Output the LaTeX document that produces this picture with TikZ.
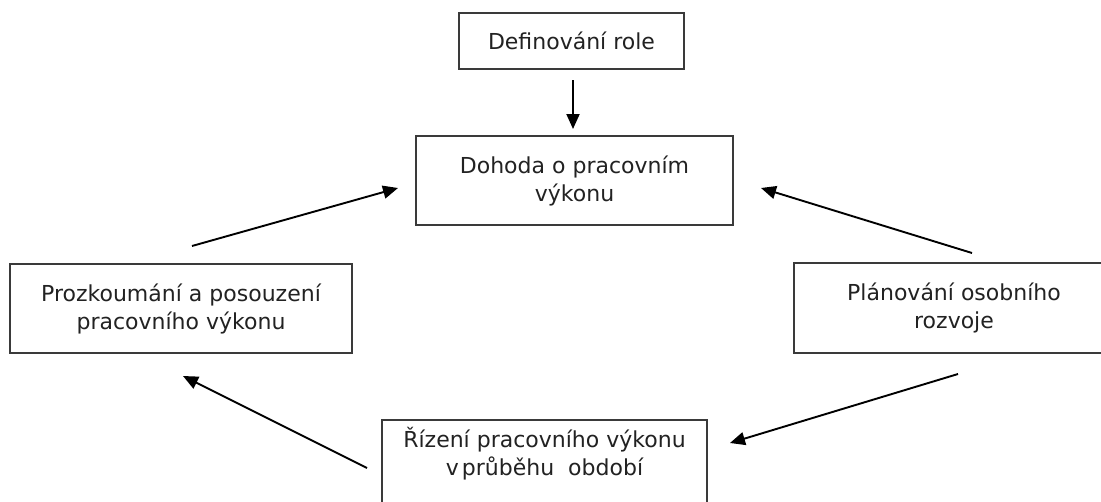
\documentclass[tikz,border=0pt]{standalone}
\usepackage{fontspec}
\setmainfont{DejaVu Sans}
\usetikzlibrary{arrows.meta}
\definecolor{inkgray}{HTML}{222222}
\definecolor{edgegray}{HTML}{3A3A3A}
\tikzset{
  stagebox/.style={draw=edgegray, line width=1.8pt, fill=white, align=center,
    text=inkgray, inner sep=0pt, font=\fontsize{22}{28}\selectfont},
  flow/.style={draw=black, line width=1.9pt,
    -{Triangle[length=15pt, width=13pt]}}
}
\begin{document}
\begin{tikzpicture}[x=1pt, y=-1pt]
  \useasboundingbox (0,0) rectangle (1101,501);
  \clip (0,0) rectangle (1101,501);
  \fill[white] (0,0) rectangle (1101,501);

  % the five stages of the cycle
  \node[stagebox, minimum width=225pt, minimum height=56pt] (role) at (571.5,41) {Definování role};
  \node[stagebox, minimum width=317pt, minimum height=89pt] (dohoda) at (574.5,180.5) {Dohoda o pracovním\\výkonu};
  \node[stagebox, minimum width=342pt, minimum height=89pt] (posouzeni) at (181,308.5) {Prozkoumání a posouzení\\pracovního výkonu};
  \node[stagebox, minimum width=320pt, minimum height=90pt] (rozvoj) at (954,308) {Plánování osobního\\rozvoje};
  \node[stagebox, anchor=north, minimum width=325pt, inner ysep=7pt, text depth=50pt] (rizeni) at (544.5,419) {Řízení pracovního výkonu\\v\kern3pt průběhu\hspace{14pt}období};

  % free ends of the connecting arrows
  \coordinate (roleOut) at (573,80);
  \coordinate (dohodaInTop) at (573,129);
  \coordinate (posOut) at (192,246);
  \coordinate (dohodaInL) at (398,188);
  \coordinate (rozOutUp) at (972,253);
  \coordinate (dohodaInR) at (761,188);
  \coordinate (rozOutDn) at (958,374);
  \coordinate (rizInR) at (730,443);
  \coordinate (rizOutL) at (367,468);
  \coordinate (posIn) at (183,376);

  \draw[flow] (roleOut) -- (dohodaInTop);
  \draw[flow] (posOut) -- (dohodaInL);
  \draw[flow] (rozOutUp) -- (dohodaInR);
  \draw[flow] (rozOutDn) -- (rizInR);
  \draw[flow] (rizOutL) -- (posIn);
\end{tikzpicture}
\end{document}
